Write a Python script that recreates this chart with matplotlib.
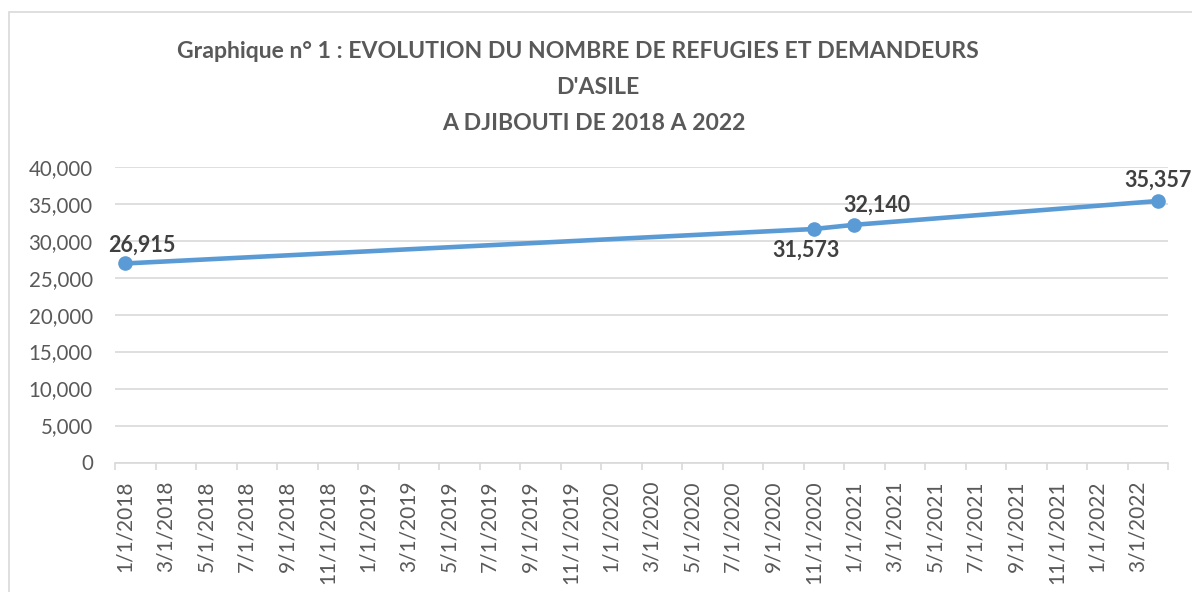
import matplotlib
matplotlib.use("Agg")
import matplotlib.pyplot as plt
from matplotlib.patches import Rectangle
from matplotlib.ticker import FixedLocator, FixedFormatter, NullFormatter

# ---------------- data ----------------
dates = ["2018-01", "2020-11", "2021-01", "2022-04"]
values = [26915, 31573, 32140, 35357]
value_labels = ["26,915", "31,573", "32,140", "35,357"]
tick_labels = ["1/1/2018", "3/1/2018", "5/1/2018", "7/1/2018", "9/1/2018", "11/1/2018",
               "1/1/2019", "3/1/2019", "5/1/2019", "7/1/2019", "9/1/2019", "11/1/2019",
               "1/1/2020", "3/1/2020", "5/1/2020", "7/1/2020", "9/1/2020", "11/1/2020",
               "1/1/2021", "3/1/2021", "5/1/2021", "7/1/2021", "9/1/2021", "11/1/2021",
               "1/1/2022", "3/1/2022"]
y_ticks = [0, 5000, 10000, 15000, 20000, 25000, 30000, 35000, 40000]
title_lines = ["Graphique n° 1 : EVOLUTION DU NOMBRE DE REFUGIES ET DEMANDEURS",
               "D'ASILE",
               "A DJIBOUTI DE 2018 A 2022"]

# label offsets in pixels (styling)
label_offsets = [(17, 18), (-8, -21), (23, 20), (0, 21)]

FONT = "Lato"
TITLE_C = "#595959"
TICK_C = "#595959"
LABEL_C = "#404040"
GRID_C = "#D9D9D9"
LINE_C = "#5B9BD5"

def month_index(s):
    y, m = s.split("-")
    return (int(y) - 2018) * 12 + int(m) - 1

def label_month(s):
    m, d, y = s.split("/")
    return (int(y) - 2018) * 12 + int(m) - 1

x = [month_index(d) for d in dates]
tick_pos = [label_month(t) for t in tick_labels]

W, H = 1192, 592
fig = plt.figure(figsize=(W / 100, H / 100), dpi=100)
fig.patch.set_facecolor("white")

ax = fig.add_axes([115 / W, 1 - 462.5 / H, (1168 - 115) / W, (462.5 - 166.7) / H])

ax.plot(x, values, color=LINE_C, lw=3.3, marker="o", markersize=9.5,
        markerfacecolor=LINE_C, markeredgecolor=LINE_C, solid_capstyle="round",
        zorder=3, clip_on=False)

for xi, v, lab, off in zip(x, values, value_labels, label_offsets):
    ax.annotate(lab, (xi, v), xytext=off, textcoords="offset pixels",
                ha="center", va="center", fontsize=15.5, fontweight="bold",
                color=LABEL_C, family=FONT, zorder=4)

ax.set_ylim(y_ticks[0], y_ticks[-1])
ax.set_xlim(min(tick_pos) - 0.5, max(x) + 0.5)

ax.set_yticks(y_ticks)
ax.set_yticklabels([f"{v:,}" for v in y_ticks])
ax.yaxis.grid(True, color=GRID_C, lw=1.2)
ax.set_axisbelow(True)

ax.xaxis.set_major_locator(FixedLocator(tick_pos))
ax.xaxis.set_major_formatter(FixedFormatter(tick_labels))
bounds = [p - 0.5 for p in tick_pos] + [max(x) + 0.5]
ax.xaxis.set_minor_locator(FixedLocator(bounds))
ax.xaxis.set_minor_formatter(NullFormatter())

ax.tick_params(axis="x", which="major", length=0, pad=13, labelrotation=90,
               labelsize=15, labelcolor=TICK_C)
ax.tick_params(axis="x", which="minor", length=5, width=1.2, color=GRID_C, direction="out")
ax.tick_params(axis="y", length=0, pad=16, labelsize=14.8, labelcolor=TICK_C)
for lab in ax.get_xticklabels() + ax.get_yticklabels():
    lab.set_family(FONT)
for lab in ax.get_xticklabels():
    lab.set_va("top")

for s in ["top", "right", "left"]:
    ax.spines[s].set_visible(False)
ax.spines["bottom"].set_color(GRID_C)
ax.spines["bottom"].set_linewidth(1.2)

# title lines
centers = [(578, 51), (598, 87), (594, 124)]
for txt, (cx, cy) in zip(title_lines, centers):
    fig.text(cx / W, 1 - cy / H, txt, ha="center", va="center", fontsize=16.6,
             fontweight="bold", color=TITLE_C, family=FONT)

# chart border
fig.patches.append(Rectangle((9 / W, -0.1), 1.2, 0.1 + 1 - 12 / H, transform=fig.transFigure,
                             fill=False, edgecolor=GRID_C, lw=1.2))

fig.savefig("out.png", dpi=100, facecolor="white")
